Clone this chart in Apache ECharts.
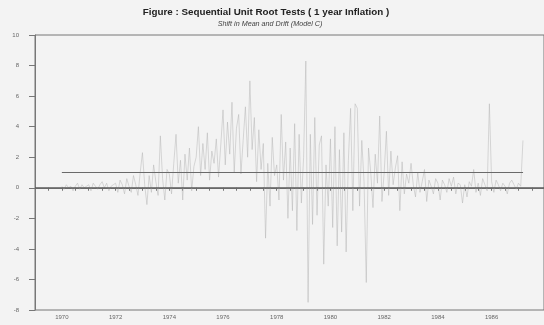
<!DOCTYPE html>
<html>
<head>
<meta charset="utf-8">
<script src="https://cdn.jsdelivr.net/npm/echarts@6/dist/echarts.min.js"></script>
<style>html,body{margin:0;padding:0;background:#f3f3f3;}#c{width:544px;height:325px;}</style>
</head>
<body>
<div id="c"></div>
<script>
// Monthly sequential test statistic, by year (Jan..Dec)
const startYear = 1970;
const statByYear = [
  [0.1, -0.1, 0.2, 0, 0.1, -0.2, 0.1, 0.3, -0.1, 0.2, 0, 0.1],        // 1970
  [0.2, -0.2, 0.3, 0.1, -0.1, 0.2, 0.4, 0, 0.3, -0.2, 0.1, 0.2],       // 1971
  [0.3, -0.3, 0.5, 0.2, -0.4, 0.6, 0.1, -0.3, 0.8, 0.2, -0.5, 1.0],    // 1972
  [2.3, 0.2, -1.1, 0.8, -0.3, 1.5, 0.4, -0.5, 3.4, 0.6, -0.8, 1.2],    // 1973
  [0.9, -0.4, 1.6, 3.5, 0.3, 1.8, -0.8, 2.2, 0.5, 2.6, -0.2, 1.4],     // 1974
  [2.0, 4.0, 0.8, 2.9, 1.2, 3.6, 0.5, 2.4, 1.6, 3.2, 0.7, 2.8],        // 1975
  [5.1, 1.5, 4.3, 2.2, 5.6, 1.0, 3.9, 4.8, 0.9, 3.1, 5.3, 2.0],        // 1976
  [7.0, 2.5, 4.6, 0.4, 3.8, 1.2, 2.9, -3.3, 1.6, -1.2, 3.3, 0.8],      // 1977
  [1.5, -0.8, 4.8, 0.5, 3.0, -2.0, 2.6, -1.5, 4.2, -2.8, 3.5, -1.0],   // 1978
  [2.0, 8.3, -7.5, 3.5, -2.4, 4.6, -1.8, 2.8, 3.4, -5.0, 1.5, -1.2],   // 1979
  [3.2, -2.6, 4.0, -3.8, 2.5, -2.9, 3.6, -4.2, 1.8, 5.2, -1.5, 5.5],   // 1980
  [5.2, -1.2, 3.1, 0.4, -6.2, 2.6, 1.0, -1.3, 2.2, 0.3, 4.7, -0.9],    // 1981
  [1.0, 3.7, -0.5, 2.4, 0.2, 1.3, 2.1, -1.5, 1.7, -0.4, 0.9, 0.3],     // 1982
  [1.6, 0.2, -0.6, 1.0, -0.3, 0.4, 1.2, -0.9, 0.5, 0.1, -0.4, 0.6],    // 1983
  [0.3, -0.8, 0.5, 0.2, -0.3, 0.6, 0.1, 0.7, -0.4, 0.3, 0.2, -1.0],    // 1984
  [0.2, -0.6, 0.4, 0.1, 1.2, -0.3, 0.3, -0.5, 0.6, 0.2, -0.2, 5.5],    // 1985
  [0.4, -0.3, 0.5, 0.2, -0.2, 0.3, 0.1, -0.4, 0.3, 0.5, 0.2, -0.1],    // 1986
  [0.3, 0.1, 3.1]                                                     // 1987
];
// Shift-in-mean level line
const meanLineYears = [1970.0, 1987.17];
const meanLineValues = [1.0, 1.0];
// Zero reference
const zeroLineYears = [1969.0, 1987.95];
const zeroLineValues = [0, 0];
const yTicks = [-8, -6, -4, -2, 0, 2, 4, 6, 8, 10];
const xLabelYears = [1970, 1972, 1974, 1976, 1978, 1980, 1982, 1984, 1986];

const statData = [];
statByYear.forEach((vals, i) => {
  vals.forEach((v, m) => statData.push([startYear + i + m / 12, v]));
});

const chart = echarts.init(document.getElementById('c'));
chart.setOption({
  backgroundColor: '#f3f3f3',
  animation: false,
  graphic: [
    { type: 'text', style: {
      text: 'Figure : Sequential Unit Root Tests ( 1 year Inflation )',
      x: 266, y: 12, align: 'center', verticalAlign: 'middle',
      font: 'bold 9.8px "Liberation Sans", Arial, sans-serif', fill: '#222' } },
    { type: 'text', style: {
      text: 'Shift in Mean and Drift (Model C)',
      x: 270, y: 24, align: 'center', verticalAlign: 'middle',
      font: 'italic 7.2px "Liberation Sans", Arial, sans-serif', fill: '#444' } }
  ],
  grid: { left: 35, right: -2, top: 35, bottom: 15, show: true, borderColor: '#777', borderWidth: 1, backgroundColor: 'transparent' },
  xAxis: {
    type: 'value', min: 1969, max: 1987.95, interval: 0.5,
    axisLine: { show: true, lineStyle: { color: '#777', width: 1 } },
    axisTick: { show: true, length: 3, lineStyle: { color: '#777' } },
    splitLine: { show: false },
    axisLabel: {
      margin: 4, fontSize: 6, color: '#666', fontFamily: 'Liberation Sans, Arial',
      showMaxLabel: false,
      formatter: v => xLabelYears.indexOf(v) >= 0 ? String(v) : ''
    }
  },
  yAxis: {
    type: 'value', min: yTicks[0], max: yTicks[yTicks.length - 1], interval: 2,
    axisLine: { show: true, lineStyle: { color: '#777', width: 1 } },
    axisTick: { show: true, length: 6, lineStyle: { color: '#777' } },
    splitLine: { show: false },
    axisLabel: { margin: 16, fontSize: 6, color: '#666', fontFamily: 'Liberation Sans, Arial' }
  },
  series: [
    { type: 'line', data: statData, showSymbol: false, lineStyle: { color: '#b4b4b4', width: 0.5 }, z: 2 },
    { type: 'line', data: meanLineYears.map((x, i) => [x, meanLineValues[i]]), showSymbol: false,
      lineStyle: { color: '#6a6a6a', width: 1 }, z: 3 },
    { type: 'line', data: zeroLineYears.map((x, i) => [x, zeroLineValues[i]]), showSymbol: false,
      lineStyle: { color: '#5a5a5a', width: 1.2 }, z: 3 }
  ]
});
</script>
</body>
</html>
